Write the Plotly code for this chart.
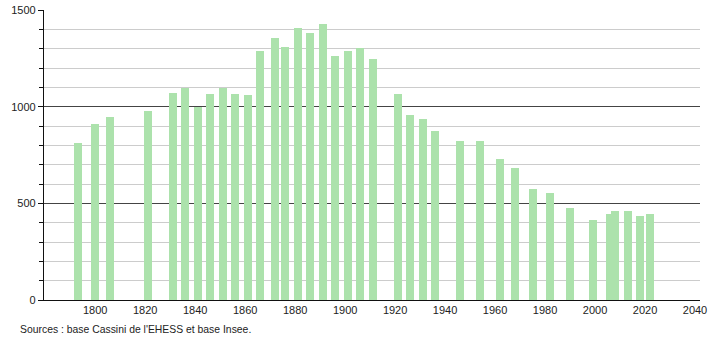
import plotly.graph_objects as go

years = [1793, 1800, 1806, 1821, 1831, 1836, 1841, 1846, 1851, 1856, 1861, 1866,
         1872, 1876, 1881, 1886, 1891, 1896, 1901, 1906, 1911, 1921, 1926, 1931,
         1936, 1946, 1954, 1962, 1968, 1975, 1982, 1990, 1999, 2006, 2008, 2013,
         2018, 2022]
population = [812, 908, 944, 979, 1072, 1096, 999, 1065, 1096, 1068, 1058, 1286,
              1356, 1310, 1408, 1379, 1430, 1260, 1286, 1306, 1248, 1068, 958, 934,
              875, 820, 820, 727, 682, 575, 551, 478, 416, 447, 458, 458,
              437, 447]

x_ticks = list(range(1800, 2041, 20))
y_ticks = [0, 500, 1000, 1500]
source_text = "Sources : base Cassini de l'EHESS et base Insee."

fig = go.Figure()
fig.add_trace(go.Bar(
    x=years, y=population, width=3.2,
    marker=dict(color="rgb(172,226,172)", line=dict(width=0)),
    hoverinfo="x+y",
))

fig.update_layout(
    width=710, height=340,
    margin=dict(l=44, r=10, t=10, b=40),
    paper_bgcolor="white", plot_bgcolor="white",
    font=dict(family="Liberation Sans, Arial, sans-serif", size=11, color="#222"),
    showlegend=False,
    xaxis=dict(
        range=[1779.5, 2042.0],
        automargin=False,
        tickmode="array", tickvals=x_ticks, ticktext=[str(t) for t in x_ticks],
        showgrid=False, zeroline=False,
        showline=True, linecolor="#111", linewidth=1.3,
        ticks="", ticklen=0,
        tickfont=dict(size=11),
    ),
    yaxis=dict(
        range=[0, 1500],
        automargin=False,
        tickmode="array", tickvals=y_ticks, ticktext=[str(t) for t in y_ticks],
        showgrid=True, gridcolor="#444", gridwidth=1,
        zeroline=False,
        showline=True, linecolor="#111", linewidth=1.3,
        ticks="outside", ticklen=5, tickcolor="#111",
        minor=dict(dtick=100, showgrid=True, gridcolor="#cccccc", gridwidth=1,
                   ticks="outside", ticklen=4, tickcolor="#111"),
        tickfont=dict(size=11),
    ),
    bargap=0,
)

fig.add_annotation(
    text=source_text, xref="paper", yref="paper",
    x=-0.04, y=-0.075, xanchor="left", yanchor="top",
    showarrow=False, font=dict(size=10.4, color="#222"),
)

fig.write_html("out.html")
